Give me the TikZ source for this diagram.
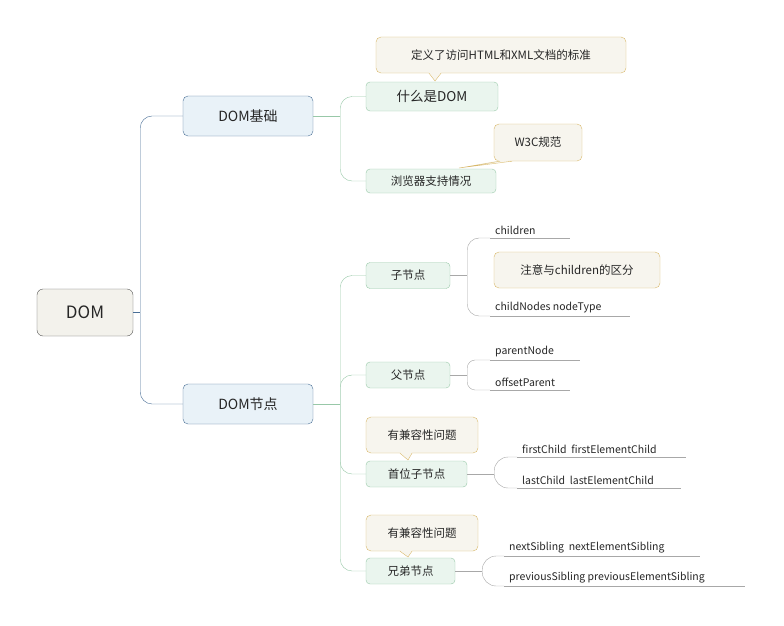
\documentclass[tikz,border=0pt]{standalone}
\usepackage{fontspec}
\setmainfont{Noto Sans CJK SC}
\usetikzlibrary{calc}
\definecolor{rootfill}{HTML}{F3F2EC}
\definecolor{rootdraw}{HTML}{555555}
\definecolor{bluefill}{HTML}{E9F2F8}
\definecolor{bluedraw}{HTML}{4A6F96}
\definecolor{grfill}{HTML}{EAF5EE}
\definecolor{grdraw}{HTML}{98C8A8}
\definecolor{callfill}{HTML}{F7F5EE}
\definecolor{calldraw}{HTML}{D8B86A}
\definecolor{leafline}{HTML}{A8A8A8}
\tikzset{
 rootbox/.style={draw=rootdraw,fill=rootfill,rounded corners=6pt,minimum width=96pt,minimum height=47pt,font=\fontsize{17}{20}\selectfont,text=black!85},
 mainbox/.style={draw=bluedraw,fill=bluefill,rounded corners=5pt,minimum width=130pt,minimum height=40pt,font=\fontsize{14}{17}\selectfont,text=black!85},
 subbox/.style={draw=grdraw,fill=grfill,rounded corners=4pt,minimum height=26pt,font=\fontsize{11.5}{14}\selectfont,text=black!85},
 callbox/.style={draw=calldraw,fill=callfill,rounded corners=5pt,minimum height=36pt,font=\fontsize{11.5}{14}\selectfont,text=black!85},
 leaf/.style={anchor=south west,inner xsep=5pt,inner ysep=3pt,font=\fontsize{10.5}{13}\selectfont,text=black!85},
 bconn/.style={draw=bluedraw,rounded corners=12pt},
 gconn/.style={draw=grdraw,rounded corners=12pt},
 lconn/.style={draw=leafline,rounded corners=12pt},
}
\newcommand{\mypointer}[3]{\fill[callfill] ($(#1.south)+(#2-6pt,1pt)$) -- (#3) -- ($(#1.south)+(#2+6pt,1pt)$) -- cycle; \draw[calldraw] ($(#1.south)+(#2-6pt,0)$) -- (#3) -- ($(#1.south)+(#2+6pt,0)$);}
\newcommand{\myuline}[2]{\draw[leafline] (#1.south west) -- ($(#1.south west)+(#2,0)$);}
\begin{document}
\begin{tikzpicture}[x=1pt,y=-1pt]
\useasboundingbox (0,0) rectangle (784,626);
\node[rootbox] (root) at (85,312.5) {DOM};
\node[mainbox] (base) at (248,116) {DOM基础};
\node[mainbox] (node) at (248,404) {DOM节点};
\node[subbox,minimum width=132pt,font=\fontsize{13.5}{16}\selectfont,minimum height=29pt] (what) at (432,96.5) {什么是DOM};
\node[subbox,minimum width=130pt,minimum height=24pt] (brow) at (431,181) {浏览器支持情况};
\node[subbox,minimum width=84pt] (child) at (408,275.5) {子节点};
\node[subbox,minimum width=84pt] (par) at (408,375) {父节点};
\node[subbox,minimum width=101pt] (first) at (416.5,474) {首位子节点};
\node[subbox,minimum width=89pt] (sib) at (410.5,571) {兄弟节点};
\node[callbox,minimum width=250pt] (c1) at (501,55) {定义了访问HTML和XML文档的标准};
\coordinate (t1) at (435,81);
\mypointer{c1}{-66pt}{t1}
\node[callbox,minimum width=88pt,minimum height=37pt] (c2) at (538,142.5) {W3C规范};
\coordinate (t2) at (459,168);
\mypointer{c2}{-32pt}{t2}
\node[callbox,minimum width=166pt] (c3) at (577,270) {注意与children的区分};
\node[callbox,minimum width=112pt] (c4) at (422,435) {有兼容性问题};
\coordinate (t4) at (408,460);
\mypointer{c4}{-16pt}{t4}
\node[callbox,minimum width=112pt] (c5) at (422,533) {有兼容性问题};
\coordinate (t5) at (408,557);
\mypointer{c5}{-16pt}{t5}
\node[leaf] (l1) at (490,238) {children}; \myuline{l1}{80}
\node[leaf] (l2) at (490,316) {childNodes nodeType}; \myuline{l2}{140}
\node[leaf] (l3) at (490,360) {parentNode}; \myuline{l3}{90}
\node[leaf] (l4) at (490,390) {offsetParent}; \myuline{l4}{80}
\node[leaf] (l5) at (517,457) {firstChild\ \ firstElementChild}; \myuline{l5}{169}
\node[leaf] (l6) at (517,488) {lastChild\ \ lastElementChild}; \myuline{l6}{164}
\node[leaf] (l7) at (504,556) {nextSibling\ \ nextElementSibling}; \myuline{l7}{196}
\node[leaf] (l8) at (504,586) {previousSibling previousElementSibling}; \myuline{l8}{241}
\draw[bconn] (root.east) -- ++(7,0) coordinate (rt);
\draw[bconn] (rt) |- (base.west);
\draw[bconn] (rt) |- (node.west);
\draw[gconn] (base.east) -- ++(27,0) coordinate (bt);
\draw[gconn] (bt) |- (what.west);
\draw[gconn] (bt) |- (brow.west);
\draw[gconn] (node.east) -- ++(27,0) coordinate (nt);
\draw[gconn] (nt) |- (child.west);
\draw[gconn] (nt) |- (par.west);
\draw[gconn] (nt) |- (first.west);
\draw[gconn] (nt) |- (sib.west);
\draw[lconn] (child.east) -- ++(17,0) coordinate (ct);
\draw[lconn] (ct) |- (l1.south west);
\draw[lconn] (ct) |- (l2.south west);
\draw[lconn] (par.east) -- ++(17,0) coordinate (pa);
\draw[lconn,rounded corners=8pt] (pa) |- (l3.south west);
\draw[lconn,rounded corners=8pt] (pa) |- (l4.south west);
\draw[lconn] (first.east) -- ++(27,0) coordinate (ft);
\draw[lconn,rounded corners=14pt] (ft) |- (l5.south west);
\draw[lconn,rounded corners=14pt] (ft) |- (l6.south west);
\draw[lconn] (sib.east) -- ++(27,0) coordinate (st);
\draw[lconn,rounded corners=14pt] (st) |- (l7.south west);
\draw[lconn,rounded corners=14pt] (st) |- (l8.south west);
\end{tikzpicture}
\end{document}
